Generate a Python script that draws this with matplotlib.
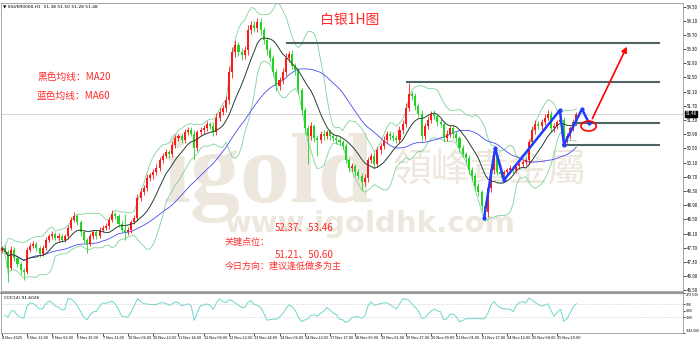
import numpy as np
import pandas as pd
import matplotlib
matplotlib.use('Agg')
import matplotlib.pyplot as plt
from matplotlib.patches import Ellipse
from matplotlib import transforms

plt.rcParams['font.family'] = ['Noto Sans CJK SC', 'DejaVu Sans']

# 白银 1H 图 - 每根蜡烛按 2 小时读取
closes = [
    47.69, 47.58, 47.13, 47.64, 47.41, 47.24, 47.07, 47.02, 47.64, 47.75,
    47.81, 47.69, 47.53, 47.69, 47.92, 48.03, 48.09, 47.98, 48.03, 47.92,
    48.03, 48.26, 48.48, 48.60, 48.43, 48.14, 47.92, 47.81, 48.03, 48.14,
    48.03, 48.20, 48.26, 48.31, 48.48, 48.65, 48.60, 48.37, 48.20, 48.14,
    48.20, 48.43, 48.54, 49.10, 49.27, 49.38, 49.67, 49.75, 49.83, 49.95,
    50.17, 50.29, 50.40, 50.34, 50.60, 50.79, 50.85, 50.74, 50.96, 51.02,
    50.91, 50.51, 50.96, 51.02, 51.07, 51.19, 51.13, 50.96, 51.36, 51.53,
    51.64, 51.86, 52.65, 53.22, 53.41, 53.22, 53.13, 53.27, 53.83, 53.98,
    53.89, 54.06, 53.83, 53.55, 53.27, 53.05, 52.65, 52.26, 52.43, 52.65,
    53.05, 53.16, 52.82, 52.71, 52.15, 51.58, 51.07, 50.85, 51.13, 50.79,
    50.74, 50.91, 50.85, 50.96, 50.85, 50.79, 50.74, 50.68, 50.57, 50.17,
    49.95, 50.00, 49.83, 49.72, 49.55, 49.67, 50.17, 50.29, 50.06, 50.45,
    50.57, 50.74, 50.91, 50.85, 50.79, 50.74, 51.02, 51.19, 51.64, 52.03,
    51.98, 51.69, 51.47, 50.85, 51.13, 51.30, 51.47, 51.41, 51.24, 51.19,
    50.79, 50.91, 51.07, 50.91, 50.79, 50.51, 50.34, 50.23, 49.89, 49.72,
    49.44, 49.27, 48.88, 48.71, 49.38, 49.89, 50.29, 49.83, 49.78, 49.83,
    49.89, 49.95, 49.89, 50.00, 50.06, 50.12, 50.17, 50.68, 51.02, 51.19,
    51.13, 51.24, 51.36, 51.47, 51.07, 51.13, 51.24, 51.30, 50.74, 50.85,
    51.07, 51.24, 51.48,
]
# 上下影线长度 (单位: 0.01)
wick_up = [
    6, 8, 5, 10, 7, 4, 6, 5, 8, 9,
    7, 5, 6, 8, 9, 6, 7, 5, 8, 6,
    7, 9, 8, 10, 6, 5, 7, 6, 8, 7,
    6, 8, 7, 9, 8, 10, 6, 5, 7, 45,
    8, 6, 9, 12, 10, 8, 11, 7, 9, 10,
    8, 7, 9, 6, 10, 9, 7, 8, 10, 9,
    8, 12, 7, 9, 10, 8, 6, 11, 13, 10,
    9, 12, 18, 15, 14, 10, 12, 11, 15, 12,
    10, 11, 12, 9, 8, 10, 7, 9, 8, 11,
    14, 9, 12, 8, 7, 6, 10, 8, 12, 7,
    9, 8, 10, 7, 8, 6, 9, 7, 6, 8,
    7, 9, 6, 8, 10, 12, 9, 7, 11, 9,
    8, 10, 7, 9, 11, 8, 10, 12, 14, 31,
    10, 9, 8, 12, 9, 10, 8, 11, 7, 9,
    8, 10, 7, 9, 8, 6, 9, 7, 8, 10,
    9, 8, 7, 10, 12, 14, 11, 9, 8, 7,
    6, 8, 7, 9, 6, 8, 7, 9, 11, 10,
    9, 8, 10, 12, 9, 8, 7, 10, 8, 9,
    7, 9, 6,
]
wick_dn = [
    8, 6, 39, 7, 9, 8, 10, 23, 6, 5,
    7, 9, 8, 6, 5, 7, 8, 6, 9, 7,
    6, 8, 7, 5, 9, 10, 8, 26, 6, 7,
    8, 6, 7, 5, 8, 6, 9, 8, 7, 22,
    7, 9, 6, 10, 8, 7, 9, 8, 10, 7,
    9, 8, 7, 10, 8, 9, 7, 10, 8, 9,
    7, 34, 9, 8, 10, 7, 9, 12, 8, 10,
    9, 11, 12, 16, 14, 12, 15, 10, 13, 11,
    12, 10, 14, 11, 13, 12, 10, 15, 12, 11,
    10, 12, 9, 13, 11, 14, 16, 80, 12, 10,
    45, 9, 11, 8, 10, 9, 12, 8, 10, 9,
    11, 8, 10, 9, 22, 10, 12, 9, 11, 8,
    10, 9, 8, 11, 9, 10, 8, 12, 10, 9,
    11, 12, 9, 14, 10, 8, 9, 10, 11, 9,
    10, 8, 9, 11, 10, 12, 9, 13, 11, 10,
    12, 10, 14, 17, 13, 11, 12, 9, 10, 8,
    9, 7, 10, 8, 9, 7, 8, 10, 9, 11,
    8, 10, 9, 7, 12, 10, 8, 9, 11, 10,
    9, 8, 7,
]
first_open = 47.62
last_price = 51.48

time_labels = ['4 Nov 2025', '5 Nov 11:00', '6 Nov 03:00', '6 Nov 19:00', '7 Nov 11:00',
               '10 Nov 06:00', '10 Nov 22:00', '11 Nov 14:00', '12 Nov 06:00', '12 Nov 22:00',
               '13 Nov 14:00', '14 Nov 06:00', '14 Nov 22:00', '17 Nov 17:00', '18 Nov 09:00',
               '19 Nov 01:00', '19 Nov 17:00', '20 Nov 09:00', '21 Nov 01:00', '21 Nov 17:00',
               '24 Nov 12:00', '25 Nov 04:00', '25 Nov 20:00']

# 关键点位
key_levels = [53.46, 52.37, 51.21, 50.60]
level_start = [90.4, 128.4, 181.0, 177.8]
level_end = 208.2

# 蓝色走势线
zig_x = [152.8, 156.3, 159.1, 176.8, 178.1, 183.8, 186.0]
zig_y = [48.54, 50.51, 49.61, 51.58, 50.60, 51.61, 51.22]

df = pd.DataFrame({'close': closes})
df['open'] = df['close'].shift(1).fillna(first_open)
df['high'] = df[['open', 'close']].max(axis=1) + np.array(wick_up) / 100
df['low'] = df[['open', 'close']].min(axis=1) - np.array(wick_dn) / 100
x = np.arange(len(df))

ma20 = df['close'].rolling(10, min_periods=1).mean()
ma60 = df['close'].rolling(30, min_periods=1).mean()
sd = df['close'].rolling(10, min_periods=1).std(ddof=0)
bb_up = ma20 + 2 * sd
bb_dn = ma20 - 2 * sd

tp = (df['high'] + df['low'] + df['close']) / 3
tp_ma = tp.rolling(7, min_periods=1).mean()
md = tp.rolling(7, min_periods=1).apply(lambda s: np.mean(np.abs(s - s.mean())), raw=True)
cci = (tp - tp_ma) / (0.015 * md.replace(0, np.nan))

fig = plt.figure(figsize=(7, 3.41), dpi=100)
ax = fig.add_axes([1 / 700, 1 - 291 / 341, 682 / 700, 288 / 341])
ax2 = fig.add_axes([1 / 700, 1 - 333 / 341, 682 / 700, 40 / 341])

def fx(px):
    return px / 700

def fy(py):
    return 1 - py / 341

# 水印
wm = '#ede7dd'
ax.text(fx(163), fy(178), 'igold', transform=fig.transFigure, fontsize=72, color=wm,
        family='Liberation Serif', weight='bold', va='center', ha='left', zorder=0)
ax.text(fx(393), fy(170), '領峰貴金屬', transform=fig.transFigure, fontsize=28, color=wm,
        family=['Noto Sans CJK TC'], va='center', ha='left', zorder=0)
ax.text(fx(225), fy(224), 'www.igoldhk.com', transform=fig.transFigure, fontsize=21, color=wm,
        family='DejaVu Sans', weight='bold', va='center', ha='left', zorder=0)

# 蜡烛图
up = df['close'] >= df['open']
colors = np.where(up, '#ff1a1a', '#22d422')
ax.vlines(x, df['low'], df['high'], colors=colors, lw=0.6, zorder=3)
body_h = (df['close'] - df['open']).abs().clip(lower=0.02)
ax.bar(x, body_h, bottom=df[['open', 'close']].min(axis=1), width=0.65,
       color=colors, lw=0, zorder=3)

ax.plot(x, bb_up, color='#7fd39a', lw=0.6, zorder=2)
ax.plot(x, bb_dn, color='#7fd39a', lw=0.6, zorder=2)
ax.plot(x, ma20, color='#7fd39a', lw=0.6, zorder=2)
ax.plot(x, ma20, color='#333333', lw=0.6, zorder=4)
ax.plot(x, ma60, color='#4a4af0', lw=0.6, zorder=2)

ax.axhline(last_price, color='#d0d0d0', lw=0.6, zorder=1)

for lv, st in zip(key_levels, level_start):
    ax.plot([st, level_end], [lv, lv], color='#4f6464', lw=1.5, zorder=5)

ax.plot(zig_x, zig_y, color='#1f3cff', lw=1.8, marker='o', ms=2, zorder=6)
ax.add_patch(Ellipse((185.9, 51.13), 4.8, 0.28, fill=False, ec='red', lw=1.2, zorder=7))
ax.annotate('', xy=(198.4, 53.44), xytext=(186.7, 51.27),
            arrowprops=dict(arrowstyle='-|>', color='red', lw=1.2, mutation_scale=8), zorder=7)

ax.set_xlim(-0.22, 215.8)
ax.set_ylim(46.48, 54.60)
ax.set_xticks([])
ax.yaxis.tick_right()
yt = np.arange(46.5, 54.51, 0.4)
ax.set_yticks(yt)
ax.set_yticklabels(['%.2f' % v for v in yt])
ax.tick_params(axis='y', labelsize=3.2, length=2, pad=1, width=0.5)
trans = transforms.blended_transform_factory(ax.transAxes, ax.transData)
ax.text(1.004, last_price, '%.2f' % last_price, transform=trans, fontsize=3.2, color='white',
        va='center', ha='left', bbox=dict(fc='black', ec='black', pad=0.4), zorder=10)

for sp in ax.spines.values():
    sp.set_color('#999999')
    sp.set_linewidth(0.6)

# 文字说明
red = '#ff2a2a'
ax.text(fx(350), fy(20), '白银1H图', transform=fig.transFigure, fontsize=10, color=red,
        ha='center', va='center', zorder=10)
ax.text(fx(37), fy(77), '黑色均线：MA20', transform=fig.transFigure, fontsize=7, color=red,
        ha='left', va='center', zorder=10)
ax.text(fx(37), fy(96), '蓝色均线：MA60', transform=fig.transFigure, fontsize=7, color=red,
        ha='left', va='center', zorder=10)
ax.text(fx(275), fy(227), '52.37、53.46', transform=fig.transFigure, fontsize=7, color=red,
        ha='left', va='center', zorder=10)
ax.text(fx(225), fy(242), '关键点位：', transform=fig.transFigure, fontsize=6.5, color=red,
        ha='left', va='center', zorder=10)
ax.text(fx(275), fy(254), '51.21、50.60', transform=fig.transFigure, fontsize=7, color=red,
        ha='left', va='center', zorder=10)
ax.text(fx(225), fy(266), '今日方向：建议逢低做多为主', transform=fig.transFigure, fontsize=6.5,
        color=red, ha='left', va='center', zorder=10)
fig.text(fx(3), fy(6), '▼ SILVER0000,H1  51.38 51.50 51.28 51.48', fontsize=3.2,
         family='DejaVu Sans', va='center', ha='left')

# CCI 副图
ax2.plot(x, cci, color='#6fd6cc', lw=0.7)
ax2.axhline(100, color='#bbbbbb', lw=0.5, ls=':')
ax2.axhline(-100, color='#bbbbbb', lw=0.5, ls=':')
ax2.set_ylim(-343.606, 273.536)
ax2.set_xlim(-0.22, 215.8)
ax2.yaxis.tick_right()
ax2.set_yticks([273.536, 100, 0, -100, -343.606])
ax2.set_yticklabels(['273.536', '100', '0.00', '-100', '-343.606'])
ax2.tick_params(axis='y', labelsize=2.6, length=1.5, pad=0.8, width=0.5)
ylabs = ax2.get_yticklabels()
ylabs[0].set_va('top')
ylabs[-1].set_va('bottom')
ax2.set_xticks(np.arange(len(time_labels)) * 8)
ax2.set_xticklabels(time_labels)
ax2.tick_params(axis='x', labelsize=2.8, length=2, pad=0.5, width=0.5)
plt.setp(ax2.get_xticklabels(), ha='left')
ax2.text(0.004, 0.88, 'CCI(14) 91.6026', transform=ax2.transAxes, fontsize=3.2,
         family='DejaVu Sans', va='center', ha='left')
for sp in ax2.spines.values():
    sp.set_color('#999999')
    sp.set_linewidth(0.6)
ax2.spines['top'].set_linewidth(1.5)

fig.savefig('out.png', dpi=100)
